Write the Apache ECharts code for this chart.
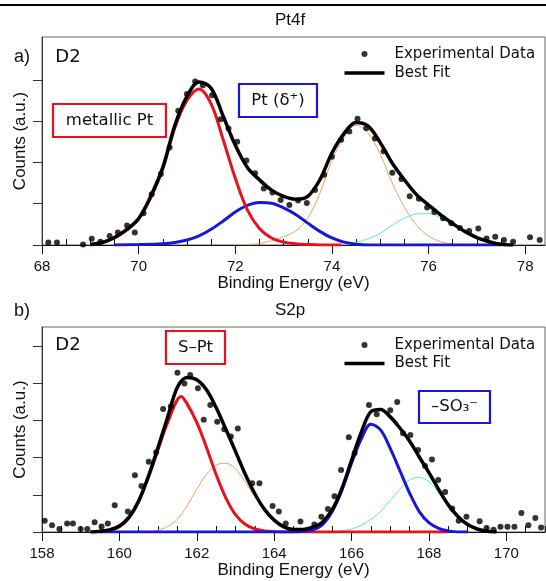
<!DOCTYPE html>
<html>
<head>
<meta charset="utf-8">
<script src="https://cdn.jsdelivr.net/npm/echarts@6/dist/echarts.min.js"></script>
<style>
  html, body { margin: 0; padding: 0; background: #fff; }
  #chart { width: 546px; height: 581px; }
</style>
</head>
<body>
<div id="chart"></div>
<script>
// Pt4f panel (binding energy eV, counts a.u.)
const pt4fData = [[68.13,0.06],[68.31,0.06],[68.85,0.01],[69.03,0.15],[69.21,0.08],[69.4,0.22],[69.57,0.3],[69.76,0.47],[69.92,0.3],[70.1,0.77],[70.27,1.23],[70.46,1.72],[70.64,2.36],[70.82,3.25],[71.0,3.66],[71.17,3.96],[71.33,3.87],[71.52,3.63],[71.7,3.05],[71.86,2.82],[72.04,2.5],[72.23,2.05],[72.41,1.74],[72.59,1.37],[72.77,1.27],[72.94,1.09],[73.12,0.97],[73.3,1.08],[73.48,1.02],[73.65,1.33],[73.84,1.7],[74.0,2.14],[74.19,2.55],[74.36,2.75],[74.53,3.06],[74.71,2.83],[74.89,2.58],[75.07,2.27],[75.25,1.75],[75.44,1.6],[75.61,1.18],[75.8,1.12],[75.97,0.91],[76.12,0.8],[76.3,0.65],[76.47,0.53],[76.65,0.41],[76.84,0.34],[77.03,0.4],[77.2,0.16],[77.38,0.2],[77.56,0.12],[77.75,0.08],[78.1,0.19],[78.3,0.12]];
const pt4fFit = [[69.0,0.01],[69.25,0.06],[69.5,0.18],[69.75,0.37],[70.0,0.64],[70.25,1.18],[70.5,1.88],[70.75,2.9],[71.0,3.6],[71.25,3.95],[71.5,3.8],[71.75,3.12],[72.0,2.42],[72.25,1.88],[72.5,1.58],[72.75,1.33],[73.0,1.18],[73.25,1.11],[73.5,1.18],[73.75,1.58],[74.0,2.23],[74.25,2.7],[74.5,2.97],[74.75,2.88],[75.0,2.48],[75.25,1.98],[75.5,1.58],[75.75,1.22],[76.0,0.97],[76.25,0.73],[76.5,0.52],[76.75,0.33],[77.0,0.18],[77.25,0.08],[77.5,0.02],[77.75,0]];
const pt4fMetallic = [[69.0,0],[69.25,0.06],[69.5,0.17],[69.75,0.36],[70.0,0.63],[70.25,1.15],[70.5,1.85],[70.75,2.85],[71.0,3.5],[71.25,3.78],[71.5,3.42],[71.75,2.55],[72.0,1.62],[72.25,0.85],[72.5,0.4],[72.75,0.17],[73.0,0.07],[73.25,0.03],[73.5,0.01],[73.75,0],[74.2,0]];
const pt4fDelta = [[69.5,0],[70.0,0.01],[70.5,0.03],[70.75,0.06],[71.0,0.12],[71.25,0.22],[71.5,0.38],[71.75,0.58],[72.0,0.8],[72.25,0.96],[72.5,1.03],[72.75,1.01],[73.0,0.9],[73.25,0.74],[73.5,0.53],[73.75,0.33],[74.0,0.17],[74.25,0.07],[74.5,0.02],[74.75,0],[77.5,0]];
const pt4fMetallic52 = [[72.25,0],[72.5,0.04],[72.75,0.1],[73.0,0.2],[73.25,0.34],[73.5,0.65],[73.75,1.25],[74.0,2.05],[74.25,2.6],[74.5,2.9],[74.75,2.72],[75.0,2.2],[75.25,1.5],[75.5,0.92],[75.75,0.48],[76.0,0.22],[76.25,0.08],[76.5,0.02],[76.6,0]];
const pt4fDelta52 = [[74.0,0],[74.25,0.02],[74.5,0.06],[74.75,0.15],[75.0,0.28],[75.25,0.48],[75.5,0.65],[75.75,0.75],[76.0,0.76],[76.25,0.66],[76.5,0.5],[76.75,0.32],[77.0,0.17],[77.25,0.07],[77.5,0.02],[77.6,0]];

// S2p panel
const s2pData = [[158.07,0.3],[158.26,0.18],[158.45,0.08],[158.65,0.23],[158.8,0.23],[159.0,0.08],[159.17,0.08],[159.36,0.26],[159.54,0.15],[159.7,0.23],[159.88,0.72],[160.22,0.55],[160.4,1.53],[160.57,1.24],[160.76,1.89],[160.95,2.15],[161.13,3.31],[161.33,3.38],[161.5,4.29],[161.68,4.0],[161.83,4.23],[162.03,3.87],[162.18,3.02],[162.35,3.42],[162.53,2.97],[162.71,2.77],[162.88,2.57],[163.06,2.79],[163.43,1.31],[163.62,1.31],[163.96,0.7],[164.12,0.55],[164.3,0.23],[164.68,0.28],[165.04,0.2],[165.22,0.41],[165.39,0.62],[165.56,0.96],[165.73,1.67],[165.93,2.55],[166.08,2.13],[166.45,3.42],[166.65,3.17],[167.0,3.28],[167.18,3.5],[167.33,2.66],[167.52,2.61],[167.72,2.21],[167.9,1.78],[168.08,1.95],[168.24,1.4],[168.42,1.08],[168.6,0.63],[168.77,0.3],[168.97,0.41],[169.31,0.29],[169.49,0.11],[169.67,0.06],[169.85,0.14],[170.03,0.14],[170.21,0.14],[170.39,0.51],[170.57,0.18],[170.75,0.38],[170.9,0.12]];
const s2pFit = [[159.25,0],[159.5,0.02],[159.75,0.06],[160.0,0.16],[160.25,0.4],[160.5,0.84],[160.75,1.5],[161.0,2.28],[161.25,3.1],[161.5,3.9],[161.75,4.16],[162.0,4.1],[162.25,3.83],[162.5,3.35],[162.75,2.77],[163.0,2.17],[163.25,1.56],[163.5,1.03],[163.75,0.61],[164.0,0.32],[164.25,0.14],[164.5,0.07],[164.75,0.07],[165.0,0.13],[165.25,0.27],[165.5,0.6],[165.75,1.17],[166.0,1.93],[166.25,2.68],[166.5,3.24],[166.75,3.3],[167.0,3.1],[167.25,2.8],[167.5,2.45],[167.75,2.02],[168.0,1.6],[168.25,1.15],[168.5,0.73],[168.75,0.42],[169.0,0.2],[169.25,0.08],[169.5,0.02],[169.75,0]];
const s2pSPt = [[159.5,0],[159.75,0.04],[160.0,0.14],[160.25,0.38],[160.5,0.82],[160.75,1.48],[161.0,2.22],[161.25,2.95],[161.6,3.65],[161.75,3.45],[162.0,2.95],[162.25,2.28],[162.5,1.55],[162.75,0.92],[163.0,0.47],[163.25,0.21],[163.5,0.08],[163.75,0.03],[164.0,0.01],[164.25,0],[168.5,0]];
const s2pSPt12 = [[160.75,0],[161.0,0.05],[161.25,0.15],[161.5,0.35],[161.75,0.7],[162.0,1.15],[162.25,1.55],[162.5,1.8],[162.75,1.85],[163.0,1.7],[163.25,1.35],[163.5,0.95],[163.75,0.58],[164.0,0.3],[164.25,0.13],[164.5,0.05],[164.75,0.01],[165.0,0]];
const s2pSO3 = [[159.5,0],[164.5,0],[164.75,0.02],[165.0,0.06],[165.25,0.2],[165.5,0.55],[165.75,1.12],[166.0,1.85],[166.25,2.5],[166.5,2.9],[166.75,2.75],[167.0,2.25],[167.25,1.65],[167.5,1.05],[167.75,0.55],[168.0,0.25],[168.25,0.1],[168.5,0.03],[168.75,0],[169.0,0]];
const s2pSO312 = [[165.5,0],[165.75,0.03],[166.0,0.08],[166.25,0.18],[166.5,0.34],[166.75,0.55],[167.0,0.85],[167.25,1.15],[167.5,1.4],[167.75,1.47],[168.0,1.35],[168.25,1.05],[168.5,0.7],[168.75,0.4],[169.0,0.2],[169.25,0.08],[169.5,0.02],[169.75,0]];

const pt4fMajor = [68, 70, 72, 74, 76, 78];
const pt4fMinor = [68.5, 69, 69.5, 70.5, 71, 71.5, 72.5, 73, 73.5, 74.5, 75, 75.5, 76.5, 77, 77.5];
const s2pMajor = [158, 160, 162, 164, 166, 168, 170];
const s2pMinor = [158.5, 159, 159.5, 160.5, 161, 161.5, 162.5, 163, 163.5, 164.5, 165, 165.5, 166.5, 167, 167.5, 168.5, 169, 169.5, 170.5, 171];

const axisFont = "'Liberation Sans', Arial, sans-serif";
const markFont = "'DejaVu Sans', sans-serif";
const RED = '#e8121c';
const BLUE = '#1616dc';
const ORANGE = '#f3a055';
const CYAN = '#55e4ee';

const chart = echarts.init(document.getElementById('chart'));

const mainX = (gi, min, max, ticks) => ({
  type: 'value', gridIndex: gi, min, max,
  name: 'Binding Energy (eV)', nameLocation: 'middle', nameGap: 28,
  nameTextStyle: { fontFamily: axisFont, fontSize: 17, color: '#111' },
  axisLine: { onZero: false, lineStyle: { color: '#111', width: 1 } },
  axisTick: { length: 9, customValues: ticks, lineStyle: { color: '#111' } },
  axisLabel: { margin: 14, customValues: ticks, fontFamily: axisFont, fontSize: 15, color: '#111' },
  splitLine: { show: false }
});
const minorX = (gi, min, max, ticks) => ({
  type: 'value', gridIndex: gi, min, max,
  axisLine: { show: false },
  axisTick: { length: 6, customValues: ticks, lineStyle: { color: '#111' } },
  axisLabel: { show: false },
  splitLine: { show: false }
});
const yAx = (gi, max, ticks) => ({
  type: 'value', gridIndex: gi, min: 0, max,
  name: 'Counts (a.u.)', nameLocation: 'middle', nameGap: 13,
  nameTextStyle: { fontFamily: axisFont, fontSize: 17, color: '#111' },
  axisLine: { show: true, lineStyle: { color: '#333' } },
  axisTick: { show: true, length: 9, customValues: ticks, lineStyle: { color: '#333' } },
  axisLabel: { show: false },
  splitLine: { show: false }
});

const curve = (name, data, xi, yi, color, width, z) => ({
  name, type: 'line', xAxisIndex: xi, yAxisIndex: yi, data, z,
  symbol: 'none', smooth: 0.35, silent: true,
  itemStyle: { color },
  lineStyle: { color, width }
});
const dots = (data, xi, yi) => ({
  name: 'Experimental Data', type: 'scatter', xAxisIndex: xi, yAxisIndex: yi, data, z: 10,
  symbolSize: 6, itemStyle: { color: '#000' }, silent: true
});

const legend = (top, gap) => ({
  orient: 'vertical', left: 339.5, top, itemWidth: 40, itemHeight: 6, itemGap: gap,
  selectedMode: false,
  textStyle: { fontFamily: markFont, fontSize: 15, color: '#111', lineHeight: 16, padding: [0, 0, 0, 5] },
  data: [
    { name: 'Experimental Data', icon: 'circle' },
    { name: 'Best Fit', icon: 'path://M0,0H40V3.5H0Z' }
  ]
});

const txt = (text, x, y, size, family) => ({
  type: 'text', x, y, silent: true,
  style: { text, fontSize: size, fontFamily: family, fill: '#111', textAlign: 'center', textVerticalAlign: 'middle' }
});
const box = (x, y, w, h, color) => ({
  type: 'rect', shape: { x, y, width: w, height: h }, silent: true,
  style: { fill: 'none', stroke: color, lineWidth: 2.2 }
});

chart.setOption({
  backgroundColor: '#fff',
  animation: false,
  grid: [
    { left: 42, top: 37, width: 503, height: 208, show: true, borderColor: '#666', borderWidth: 1 },
    { left: 42, top: 327, width: 503, height: 205, show: true, borderColor: '#666', borderWidth: 1 }
  ],
  xAxis: [
    mainX(0, 68, 78.41, pt4fMajor), minorX(0, 68, 78.41, pt4fMinor),
    mainX(1, 158, 171.0, s2pMajor), minorX(1, 158, 171.0, s2pMinor)
  ],
  yAxis: [yAx(0, 5.04, [0, 1, 2, 3, 4]), yAx(1, 5.52, [0, 1, 2, 3, 4, 5])],
  legend: [legend(41, 3), legend(332, 2.5)],
  series: [
    curve('Pt 4f5/2', pt4fMetallic52, 0, 0, ORANGE, 1, 2),
    curve('Pt d+ 4f5/2', pt4fDelta52, 0, 0, CYAN, 1, 2),
    curve('Pt d+', pt4fDelta, 0, 0, BLUE, 3, 3),
    curve('metallic Pt', pt4fMetallic, 0, 0, RED, 3, 4),
    curve('Best Fit', pt4fFit, 0, 0, '#000', 3.5, 6),
    dots(pt4fData, 0, 0),
    curve('S-Pt 2p1/2', s2pSPt12, 2, 1, ORANGE, 1, 2),
    curve('SO3 2p1/2', s2pSO312, 2, 1, CYAN, 1, 2),
    curve('S-Pt', s2pSPt, 2, 1, RED, 3, 3),
    curve('SO3', s2pSO3, 2, 1, BLUE, 3, 4),
    curve('Best Fit', s2pFit, 2, 1, '#000', 3.5, 6),
    dots(s2pData, 2, 1)
  ],
  graphic: [
    { type: 'line', silent: true, shape: { x1: 0, y1: 5, x2: 546, y2: 5 }, style: { stroke: '#000', lineWidth: 2 } },
    txt('Pt4f', 290, 20, 17, axisFont),
    txt('a)', 22, 57, 18, axisFont),
    txt('D2', 68, 57, 18, markFont),
    box(53, 104, 113, 33, RED),
    txt('metallic Pt', 109.5, 121, 16.5, markFont),
    box(239, 84, 78, 33, BLUE),
    txt('Pt (δ⁺)', 278, 101, 16.5, markFont),
    txt('S2p', 290, 310, 17, axisFont),
    txt('b)', 22, 311, 18, axisFont),
    txt('D2', 68, 345, 18, markFont),
    box(166, 331, 59, 33, RED),
    txt('S–Pt', 195.5, 348, 16.5, markFont),
    box(419, 391, 71, 32, BLUE),
    txt('–SO₃⁻', 454.5, 407, 16.5, markFont)
  ]
});
</script>
</body>
</html>
